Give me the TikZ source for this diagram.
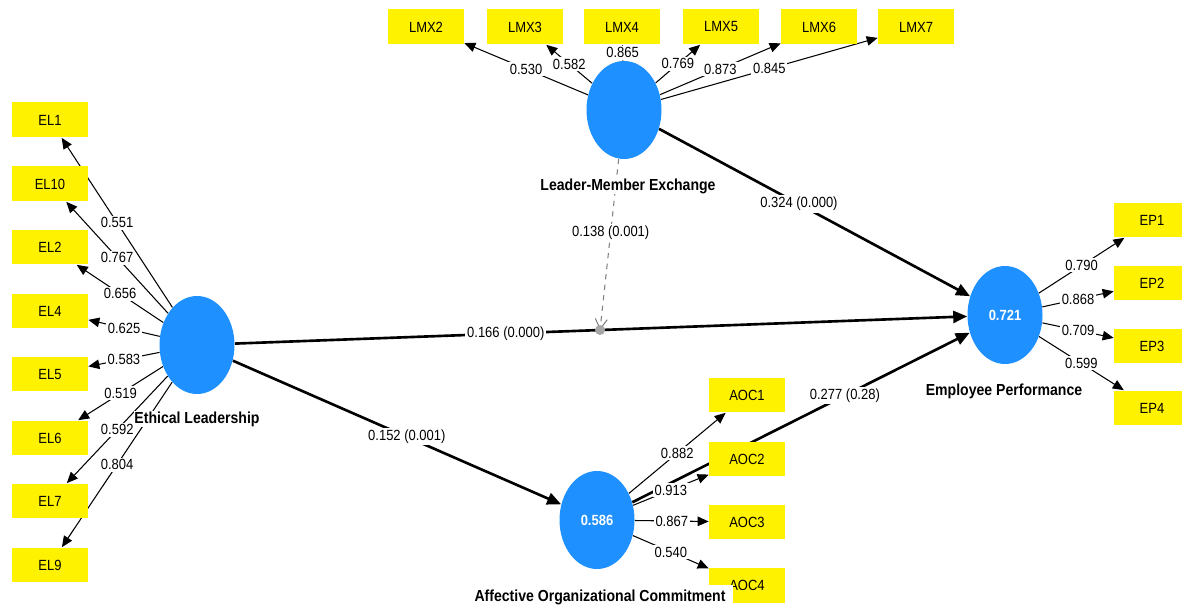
\documentclass[tikz,border=0pt]{standalone}
\usepackage{fontspec}
\setmainfont{Liberation Sans}[FakeStretch=0.88]
\usetikzlibrary{arrows.meta,calc,shapes.geometric,backgrounds}
\definecolor{lvblue}{RGB}{30,144,255}
\newcommand{\smallfs}{\fontsize{8.4}{10}\selectfont}
\newcommand{\namefs}{\fontsize{9.1}{11}\selectfont\bfseries}
\tikzset{
  >={Triangle[length=2.2mm,width=1.9mm]},
  lv/.style={ellipse,fill=lvblue,minimum width=1.5cm,minimum height=1.96cm,inner sep=0pt,text=white,font=\smallfs\bfseries},
  ind/.style={rectangle,fill=yellow,minimum width=1.52cm,minimum height=0.7cm,inner sep=0pt,font=\smallfs},
  nm/.style={fill=white,inner sep=0.5pt,font=\namefs},
  wt/.style={midway,fill=white,inner sep=1pt,text=black,font=\smallfs},
  ld/.style={->,line width=0.6pt},
  pth/.style={-{Triangle[length=2.8mm,width=2.4mm]},line width=1.5pt},
  mdr/.style={-{Straight Barb[length=2mm,width=2.4mm]},gray,dashed,line width=0.6pt},
}
\begin{document}
\begin{tikzpicture}[x=0.02cm,y=-0.02cm]
\useasboundingbox (0,0) rectangle (1182,607);
% latent variables
\node[lv] (EL) at (197,345){}; \node[lv] (LMX) at (624,110){};
\node[lv] (EP) at (1005,315){0.721}; \node[lv] (AOC) at (597,520){0.586};
% indicators
\node[ind] (EL1) at (50,120){EL1}; \node[ind] (EL10) at (50,184){EL10}; \node[ind] (EL2) at (50,247){EL2};
\node[ind] (EL4) at (50,311){EL4}; \node[ind] (EL5) at (50,374){EL5}; \node[ind] (EL6) at (50,438){EL6};
\node[ind] (EL7) at (50,501){EL7}; \node[ind] (EL9) at (50,565){EL9};
\node[ind] (LMX2) at (426,27){LMX2}; \node[ind] (LMX3) at (525,27){LMX3}; \node[ind] (LMX4) at (622,27){LMX4};
\node[ind] (LMX5) at (721,27){LMX5}; \node[ind] (LMX6) at (819,27){LMX6}; \node[ind] (LMX7) at (916,27){LMX7};
\node[ind] (EP1) at (1152,220){EP1}; \node[ind] (EP2) at (1152,283){EP2};
\node[ind] (EP3) at (1152,346){EP3}; \node[ind] (EP4) at (1152,408){EP4};
\node[ind] (AOC1) at (747,395){AOC1}; \node[ind] (AOC2) at (747,459){AOC2};
\node[ind] (AOC3) at (747,522){AOC3}; \node[ind] (AOC4) at (747,585){AOC4};
\coordinate (m) at ($(EL)!0.4988!(EP)$);
\begin{scope}[on background layer]
% inner model
\draw[pth] (EL)--(EP) node[wt,pos=0.37]{0.166 (0.000)};
\draw[pth] (LMX)--(EP) node[wt,pos=0.45]{0.324 (0.000)};
\draw[pth] (EL)--(AOC) node[wt,pos=0.53]{0.152 (0.001)};
\draw[pth] (AOC)--(EP) node[wt,pos=0.63]{0.277 (0.28)};
\draw[mdr] (LMX)--(m) node[wt,pos=0.43]{0.138 (0.001)};
\fill[gray!70] (m) circle (0.1cm);
% outer model
\draw[ld] (EL)--(EL1) node[wt]{0.551}; \draw[ld] (EL)--(EL10) node[wt]{0.767}; \draw[ld] (EL)--(EL2) node[wt]{0.656};
\draw[ld] (EL)--(EL4) node[wt]{0.625}; \draw[ld] (EL)--(EL5) node[wt]{0.583}; \draw[ld] (EL)--(EL6) node[wt]{0.519};
\draw[ld] (EL)--(EL7) node[wt]{0.592}; \draw[ld] (EL)--(EL9) node[wt]{0.804};
\draw[ld] (LMX)--(LMX2) node[wt]{0.530}; \draw[ld] (LMX)--(LMX3) node[wt]{0.582}; \draw[ld] (LMX)--(LMX4) node[wt]{0.865};
\draw[ld] (LMX)--(LMX5) node[wt]{0.769}; \draw[ld] (LMX)--(LMX6) node[wt]{0.873}; \draw[ld] (LMX)--(LMX7) node[wt]{0.845};
\draw[ld] (EP)--(EP1) node[wt]{0.790}; \draw[ld] (EP)--(EP2) node[wt]{0.868};
\draw[ld] (EP)--(EP3) node[wt]{0.709}; \draw[ld] (EP)--(EP4) node[wt]{0.599};
\draw[ld] (AOC)--(AOC1) node[wt]{0.882}; \draw[ld] (AOC)--(AOC2) node[wt]{0.913};
\draw[ld] (AOC)--(AOC3) node[wt]{0.867}; \draw[ld] (AOC)--(AOC4) node[wt]{0.540};
\end{scope}
% construct names
\node[nm] (nLMX) at (628,186){Leader-Member Exchange};
\node[nm] (nEL) at (197,419){Ethical Leadership};
\node[nm] (nEP) at (1004,391){Employee Performance};
\node[nm,inner xsep=0.16cm,inner ysep=2.5pt] (nAOC) at (600,597){Affective Organizational Commitment};
\end{tikzpicture}
\end{document}
